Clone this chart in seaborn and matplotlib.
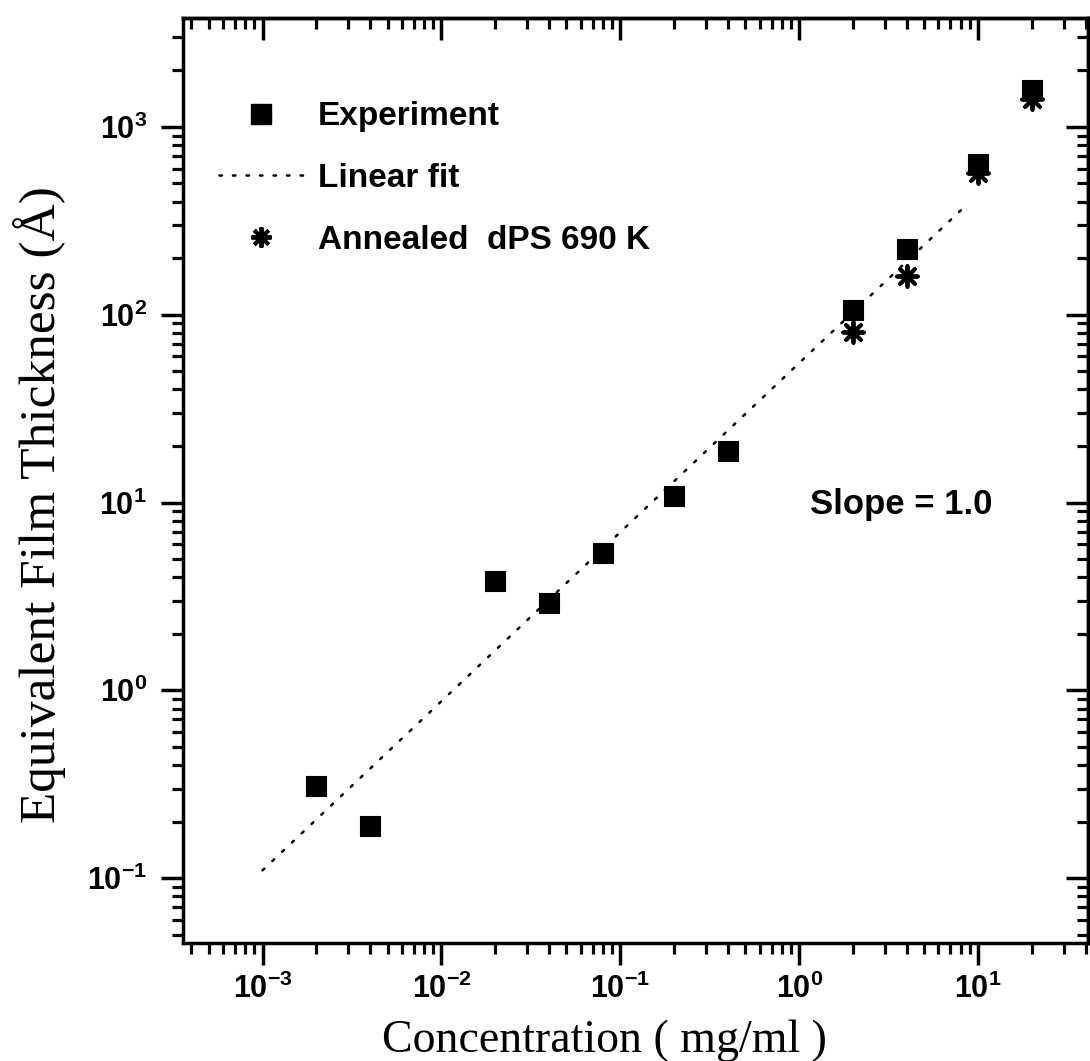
import matplotlib
matplotlib.use("Agg")
import matplotlib.pyplot as plt
import seaborn as sns
from matplotlib.lines import Line2D
from matplotlib.ticker import LogLocator, NullFormatter, FixedLocator, FixedFormatter

# ---------------- data ----------------
conc_exp = [0.002, 0.004, 0.02, 0.04, 0.08, 0.2, 0.4, 2.0, 4.0, 10.0, 20.0]
thick_exp = [0.31, 0.19, 3.8, 2.9, 5.4, 10.8, 18.7, 106, 225, 635, 1570]

conc_ann = [2.0, 4.0, 10.0, 20.0]
thick_ann = [81, 161, 570, 1410]

fit_conc = [0.001, 8.0]
fit_thick = [0.11, 360]

x_ticks = [1e-3, 1e-2, 1e-1, 1e0, 1e1]
x_tick_labels = [r"$10^{-3}$", r"$10^{-2}$", r"$10^{-1}$", r"$10^{0}$", r"$10^{1}$"]
y_ticks = [1e-1, 1e0, 1e1, 1e2, 1e3]
y_tick_labels = [r"$10^{-1}$", r"$10^{0}$", r"$10^{1}$", r"$10^{2}$", r"$10^{3}$"]

legend_labels = ["Experiment", "Linear fit", "Annealed  dPS 690 K"]
x_label = "Concentration ( mg/ml )"
y_label = "Equivalent Film Thickness (Å)"
slope_text = "Slope = 1.0"

# ---------------- style ----------------
sns.set_style("ticks")
plt.rcParams["font.family"] = ["Liberation Sans", "DejaVu Sans"]
plt.rcParams["mathtext.default"] = "regular"
plt.rcParams["text.color"] = "black"
plt.rcParams["axes.labelcolor"] = "black"

fig = plt.figure(figsize=(10.9, 10.61), dpi=100)
fig.patch.set_facecolor("white")
ax = fig.add_axes([0.168, 0.111, 0.830, 0.872])
ax.set_facecolor("white")
ax.set_xscale("log")
ax.set_yscale("log")
ax.set_xlim(3.6e-4, 41)
ax.set_ylim(0.045, 3800)

# ---------------- marks ----------------
sns.lineplot(x=fit_conc, y=fit_thick, ax=ax, color="black", lw=1.8,
             linestyle=(0, (1, 4.4)), dash_capstyle="round", zorder=2)
sns.scatterplot(x=conc_ann, y=thick_ann, ax=ax, marker=(8, 2, 0), s=220,
                color="black", edgecolor="black", linewidth=2.8, zorder=3)
sns.scatterplot(x=conc_exp, y=thick_exp, ax=ax, marker="s", s=205,
                color="black", edgecolor="black", linewidth=0.8, zorder=4)

# ---------------- axes styling ----------------
for sp in ax.spines.values():
    sp.set_linewidth(2.5)
    sp.set_color("black")
    sp.set_visible(True)

ax.xaxis.set_major_locator(FixedLocator(x_ticks))
ax.xaxis.set_major_formatter(FixedFormatter(x_tick_labels))
ax.yaxis.set_major_locator(FixedLocator(y_ticks))
ax.yaxis.set_major_formatter(FixedFormatter(y_tick_labels))
ax.xaxis.set_minor_locator(LogLocator(base=10, subs=range(2, 10), numticks=50))
ax.yaxis.set_minor_locator(LogLocator(base=10, subs=range(2, 10), numticks=50))
ax.xaxis.set_minor_formatter(NullFormatter())
ax.yaxis.set_minor_formatter(NullFormatter())

ax.tick_params(axis="both", which="major", direction="out", length=16, width=2.5,
               labelsize=22, color="black", labelcolor="black")
ax.tick_params(axis="both", which="minor", direction="out", length=8, width=2.3,
               color="black")
ax.tick_params(axis="x", which="major", pad=6)
ax.tick_params(axis="y", which="major", pad=10)
for lab in ax.get_xticklabels() + ax.get_yticklabels():
    lab.set_fontweight("bold")

# top / right ticks pointing inward
secx = ax.secondary_xaxis("top")
secx.xaxis.set_major_locator(FixedLocator(x_ticks))
secx.xaxis.set_minor_locator(LogLocator(base=10, subs=range(2, 10), numticks=50))
secx.xaxis.set_major_formatter(NullFormatter())
secx.xaxis.set_minor_formatter(NullFormatter())
secx.tick_params(which="major", direction="in", length=16, width=2.5, color="black")
secx.tick_params(which="minor", direction="in", length=8, width=2.3, color="black")
secx.spines["top"].set_linewidth(2.5)

secy = ax.secondary_yaxis("right")
secy.yaxis.set_major_locator(FixedLocator(y_ticks))
secy.yaxis.set_minor_locator(LogLocator(base=10, subs=range(2, 10), numticks=50))
secy.yaxis.set_major_formatter(NullFormatter())
secy.yaxis.set_minor_formatter(NullFormatter())
secy.tick_params(which="major", direction="in", length=16, width=2.5, color="black")
secy.tick_params(which="minor", direction="in", length=8, width=2.3, color="black")
secy.spines["right"].set_linewidth(2.5)

# ---------------- labels ----------------
ax.set_xlabel(x_label, family=["Liberation Serif", "DejaVu Serif"], fontsize=33)
ax.set_ylabel(y_label, family=["Liberation Serif", "DejaVu Serif"], fontsize=37)
ax.xaxis.set_label_coords(0.466, -0.082)
ax.yaxis.set_label_coords(-0.130, 0.474)

ax.text(0.693, 0.474, slope_text, transform=ax.transAxes, fontsize=25,
        fontweight="bold", ha="left", va="center", color="black")

# ---------------- legend ----------------
handles = [
    Line2D([], [], marker="s", ls="none", color="black", ms=14),
    Line2D([], [], ls=(0, (1, 4.4)), lw=1.8, color="black", dash_capstyle="round"),
    Line2D([], [], marker=(8, 2, 0), ls="none", color="black", ms=14.5, mew=2.8),
]
leg = ax.legend(handles, legend_labels, loc="upper left", bbox_to_anchor=(0.040, 0.910),
                frameon=False, fontsize=24, handlelength=2.5, handletextpad=0.45,
                labelspacing=0.92, borderpad=0, borderaxespad=0,
                prop={"weight": "bold", "size": 24})

fig.savefig("out.png", dpi=100, facecolor="white")
